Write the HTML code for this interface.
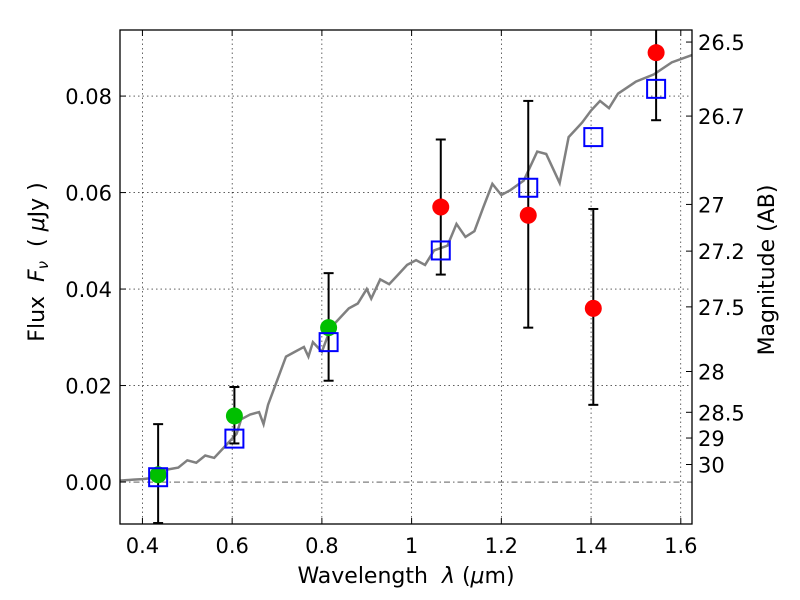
<!DOCTYPE html>
<html><head><meta charset="utf-8"><style>
body{margin:0;background:#fff;}
svg{display:block;font-family:"DejaVu Sans","Liberation Sans",sans-serif;}
text{white-space:pre;}
</style></head><body>
<svg id="chart" width="800" height="600" viewBox="0 0 800 600">
<rect width="800" height="600" fill="#fff"/>
<g id="grid"></g>
<g id="plot"></g>
<rect x="120" y="30" width="572" height="494" fill="none" stroke="#000" stroke-width="1.3"/>
<g id="axes"></g>
<text x="406" y="583" font-size="22" text-anchor="middle">Wavelength  <tspan font-style="italic">λ</tspan> (<tspan font-style="italic">μ</tspan>m)</text>
<text transform="translate(44,262) rotate(-90)" font-size="22" text-anchor="middle">Flux  <tspan font-style="italic">F</tspan><tspan font-style="italic" font-size="15" dy="4">ν</tspan><tspan dy="-4">  ( </tspan><tspan font-style="italic">μ</tspan>Jy )</text>
<text transform="translate(774,270) rotate(-90)" font-size="22" text-anchor="middle">Magnitude (AB)</text>
</svg>
<script>
const xTicks=[0.4,0.6,0.8,1.0,1.2,1.4,1.6];
const xTickLabels=["0.4","0.6","0.8","1","1.2","1.4","1.6"];
const yTicks=[0,0.02,0.04,0.06,0.08];
const yTickLabels=["0.00","0.02","0.04","0.06","0.08"];
const magTicks=[26.5,26.7,27,27.2,27.5,28,28.5,29,30];
const magTickLabels=["26.5","26.7","27","27.2","27.5","28","28.5","29","30"];
const specWave=[0.35,0.38,0.40,0.42,0.45,0.48,0.50,0.52,0.54,0.56,0.58,0.60,0.61,0.62,0.64,0.66,0.67,0.68,0.70,0.72,0.74,0.76,0.77,0.78,0.80,0.82,0.84,0.86,0.88,0.90,0.91,0.93,0.95,0.97,0.99,1.01,1.03,1.05,1.08,1.10,1.12,1.14,1.16,1.18,1.20,1.22,1.25,1.28,1.30,1.33,1.35,1.38,1.40,1.42,1.44,1.46,1.50,1.54,1.58,1.625];
const specFlux=[0.0003,0.0005,0.0006,0.0008,0.0025,0.003,0.0045,0.004,0.0055,0.005,0.007,0.009,0.010,0.013,0.014,0.0145,0.012,0.016,0.021,0.026,0.027,0.028,0.026,0.029,0.027,0.032,0.034,0.036,0.037,0.040,0.038,0.042,0.041,0.043,0.045,0.046,0.045,0.048,0.049,0.0535,0.0508,0.052,0.057,0.0618,0.0595,0.0605,0.0625,0.0685,0.068,0.062,0.0715,0.0745,0.077,0.079,0.0775,0.0805,0.083,0.0845,0.087,0.0885];
const modelWave=[0.435,0.605,0.815,1.065,1.26,1.405,1.545];
const modelFlux=[0.001,0.009,0.029,0.048,0.061,0.0715,0.0815];
const greenWave=[0.435,0.605,0.815];
const greenFlux=[0.0015,0.0137,0.032];
const greenLo=[-0.0085,0.008,0.021];
const greenHi=[0.012,0.0197,0.0433];
const redWave=[1.065,1.26,1.405,1.545];
const redFlux=[0.057,0.0553,0.036,0.089];
const redLo=[0.043,0.032,0.016,0.075];
const redHi=[0.071,0.079,0.0566,0.0945];

const NS="http://www.w3.org/2000/svg";
const X0=120,X1=692,Y0=30,Y1=524;
const xmin=0.35,xmax=1.625,ymin=-0.0087,ymax=0.0937;
const sx=v=>X0+(v-xmin)/(xmax-xmin)*(X1-X0);
const sy=v=>Y1-(v-ymin)/(ymax-ymin)*(Y1-Y0);
const magToFlux=m=>Math.pow(10,(23.9-m)/2.5);
function mk(tag,attrs,parent){const e=document.createElementNS(NS,tag);for(const k in attrs)e.setAttribute(k,attrs[k]);parent.appendChild(e);return e;}
const grid=document.getElementById('grid'),plot=document.getElementById('plot'),axes=document.getElementById('axes');

xTicks.forEach((t,i)=>{
  const g=mk('line',{x1:sx(t),x2:sx(t),y1:Y0,y2:Y1,stroke:'#000','stroke-width':0.6,'stroke-dasharray':'1.5,3'},grid);
  
  
  mk('line',{x1:sx(t),x2:sx(t),y1:Y1,y2:Y1-6,stroke:'#000'},axes);
  mk('line',{x1:sx(t),x2:sx(t),y1:Y0,y2:Y0+6,stroke:'#000'},axes);
  const tx=mk('text',{x:sx(t),y:Y1+29,'font-size':21,'text-anchor':'middle'},axes);
  tx.textContent=xTickLabels[i];
  
  
});
yTicks.forEach((t,i)=>{
  const g=mk('line',{x1:X0,x2:X1,y1:sy(t),y2:sy(t),stroke:'#000','stroke-width':0.6,'stroke-dasharray':t===0?'6,3,1.5,3':'1.5,3'},grid);
  
  
  mk('line',{x1:X0,x2:X0+6,y1:sy(t),y2:sy(t),stroke:'#000'},axes);
  const tx=mk('text',{x:X0-8,y:sy(t)+8,'font-size':21,'text-anchor':'end'},axes);
  tx.textContent=yTickLabels[i];
  
  
});
magTicks.forEach((m,i)=>{
  const y=sy(magToFlux(m));
  mk('line',{x1:X1,x2:X1-6,y1:y,y2:y,stroke:'#000'},axes);
  const tx=mk('text',{x:X1+6,y:y+8,'font-size':21},axes);
  tx.textContent=magTickLabels[i];
  
  
});

const defs=mk('clipPath',{id:'clip'},plot);
mk('rect',{x:X0,y:Y0,width:X1-X0,height:Y1-Y0},defs);
const cg=mk('g',{'clip-path':'url(#clip)'},plot);
const spec=mk('polyline',{points:specWave.map((w,i)=>sx(w)+','+sy(specFlux[i])).join(' '),fill:'none',stroke:'#808080','stroke-width':2.5},cg);



function errbar(w,lo,hi,name){
  const g=mk('g',{},cg);
  
  
  const x=sx(w);
  mk('line',{x1:x,x2:x,y1:sy(lo),y2:sy(hi),stroke:'#000','stroke-width':2},g);
  mk('line',{x1:x-5,x2:x+5,y1:sy(lo),y2:sy(lo),stroke:'#000','stroke-width':2},g);
  mk('line',{x1:x-5,x2:x+5,y1:sy(hi),y2:sy(hi),stroke:'#000','stroke-width':2},g);
}
greenWave.forEach((w,i)=>errbar(w,greenLo[i],greenHi[i],'green-errorbar'));
redWave.forEach((w,i)=>errbar(w,redLo[i],redHi[i],'red-errorbar'));
greenWave.forEach((w,i)=>{
  const c=mk('circle',{cx:sx(w),cy:sy(greenFlux[i]),r:8.5,fill:'#00bf00'},cg);
  
  
});
redWave.forEach((w,i)=>{
  const c=mk('circle',{cx:sx(w),cy:sy(redFlux[i]),r:8.5,fill:'#ff0000'},cg);
  
  
});
modelWave.forEach((w,i)=>{
  const r=mk('rect',{x:sx(w)-9,y:sy(modelFlux[i])-9,width:18,height:18,fill:'none',stroke:'#0000ff','stroke-width':2},cg);
  
  
});
</script>
</body></html>
